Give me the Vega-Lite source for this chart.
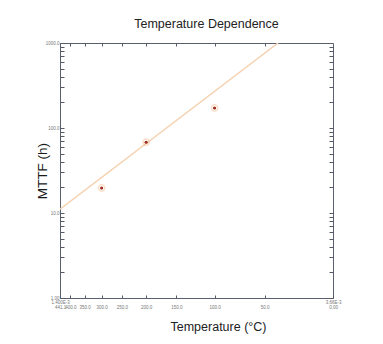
{
  "$schema": "https://vega.github.io/schema/vega-lite/v6.json",
  "width": 273,
  "height": 255,
  "autosize": {"type": "none"},
  "padding": {"left": 60, "top": 43, "right": 50, "bottom": 46},
  "background": "white",
  "title": {"text": "Temperature Dependence", "fontSize": 12.5, "fontWeight": "normal", "font": "Liberation Sans", "color": "#222222", "offset": 10, "dx": 10, "anchor": "middle"},
  "config": {
    "font": "Liberation Sans",
    "view": {"stroke": "#5a5f6e", "strokeWidth": 1},
    "axis": {"domainColor": "#5a5f6e", "tickColor": "#555a66", "tickWidth": 1, "labelColor": "#777777", "labelFont": "Liberation Sans", "grid": false}
  },
  "datasets": {
    "points": [
      {"temp": 300, "invT": 1.74474, "mttf": 19.7},
      {"temp": 200, "invT": 2.11349, "mttf": 68},
      {"temp": 100, "invT": 2.67989, "mttf": 172}
    ],
    "fit": [
      {"invT": 1.4, "mttf": 11.1},
      {"invT": 3.206, "mttf": 1000}
    ]
  },
  "layer": [
    {
      "data": {"name": "fit"},
      "mark": {"type": "line", "color": "#f5d2b2", "strokeWidth": 1.5, "clip": true},
      "encoding": {
        "x": {"field": "invT", "type": "quantitative", "scale": {"domain": [1.4, 3.66099], "nice": false, "zero": false},
          "axis": {"orient": "bottom", "values": [1.4, 1.48555, 1.60475, 1.74474, 1.9115, 2.11349, 2.36323, 2.67989, 3.09454, 3.66099],
            "labelExpr": "datum.value < 1.41 ? ['1.400E-3', '441.1'] : (datum.value > 3.66 ? ['3.66E-3', '0.00'] : ['', format(1000 / datum.value - 273.15, '.1f')])",
            "labelFontSize": 4.5, "labelLineHeight": 5, "labelBaseline": "top", "labelPadding": 4, "labelAngle": 0, "labelOverlap": false, "labelFlush": false,
            "tickSize": -3,
            "title": "Temperature (°C)", "titleX": 158, "titleY": 32, "titleAlign": "center", "titleBaseline": "alphabetic", "titleFontSize": 12.5, "titleFontWeight": "normal", "titleColor": "#222222"}},
        "y": {"field": "mttf", "type": "quantitative", "scale": {"type": "log", "domain": [1, 1000], "nice": false},
          "axis": {"orient": "left", "values": [1,2,3,4,5,6,7,8,9,10,20,30,40,50,60,70,80,90,100,200,300,400,500,600,700,800,900,1000],
            "labelExpr": "datum.value == 1 ? '1.00' : (datum.value == 10 ? '10.0' : (datum.value == 100 ? '100.0' : (datum.value == 1000 ? '1000.0' : '')))",
            "labelFontSize": 4.5, "labelPadding": 5, "labelOverlap": false, "labelFlush": false,
            "tickSize": -4,
            "title": "MTTF (h)", "titleX": -18, "titleY": 127.5, "titleAngle": -90, "titleAlign": "center", "titleBaseline": "middle", "titleFontSize": 13.5, "titleFontWeight": "normal", "titleColor": "#1a1a1a"}}
      }
    },
    {
      "data": {"name": "points"},
      "mark": {"type": "point", "filled": false, "size": 40, "color": "#f2a46a", "opacity": 0.35, "strokeWidth": 1.5},
      "encoding": {
        "x": {"field": "invT", "type": "quantitative",
          "axis": {"orient": "top", "values": [1.48555, 1.60475, 1.74474, 1.9115, 2.11349, 2.36323, 2.67989, 3.09454], "labels": false, "tickSize": -3, "title": null, "domain": false}},
        "y": {"field": "mttf", "type": "quantitative",
          "axis": {"orient": "right", "values": [2,3,4,5,6,7,8,9,10,20,30,40,50,60,70,80,90,100,200,300,400,500,600,700,800,900],
            "labels": false, "title": null, "domain": false, "tickSize": -4}}
      }
    },
    {
      "data": {"name": "points"},
      "mark": {"type": "point", "filled": true, "size": 10, "color": "#9a2d1c", "opacity": 1},
      "encoding": {
        "x": {"field": "invT", "type": "quantitative", "axis": null},
        "y": {"field": "mttf", "type": "quantitative", "axis": null}
      }
    }
  ],
  "resolve": {"axis": {"x": "independent", "y": "independent"}}
}
